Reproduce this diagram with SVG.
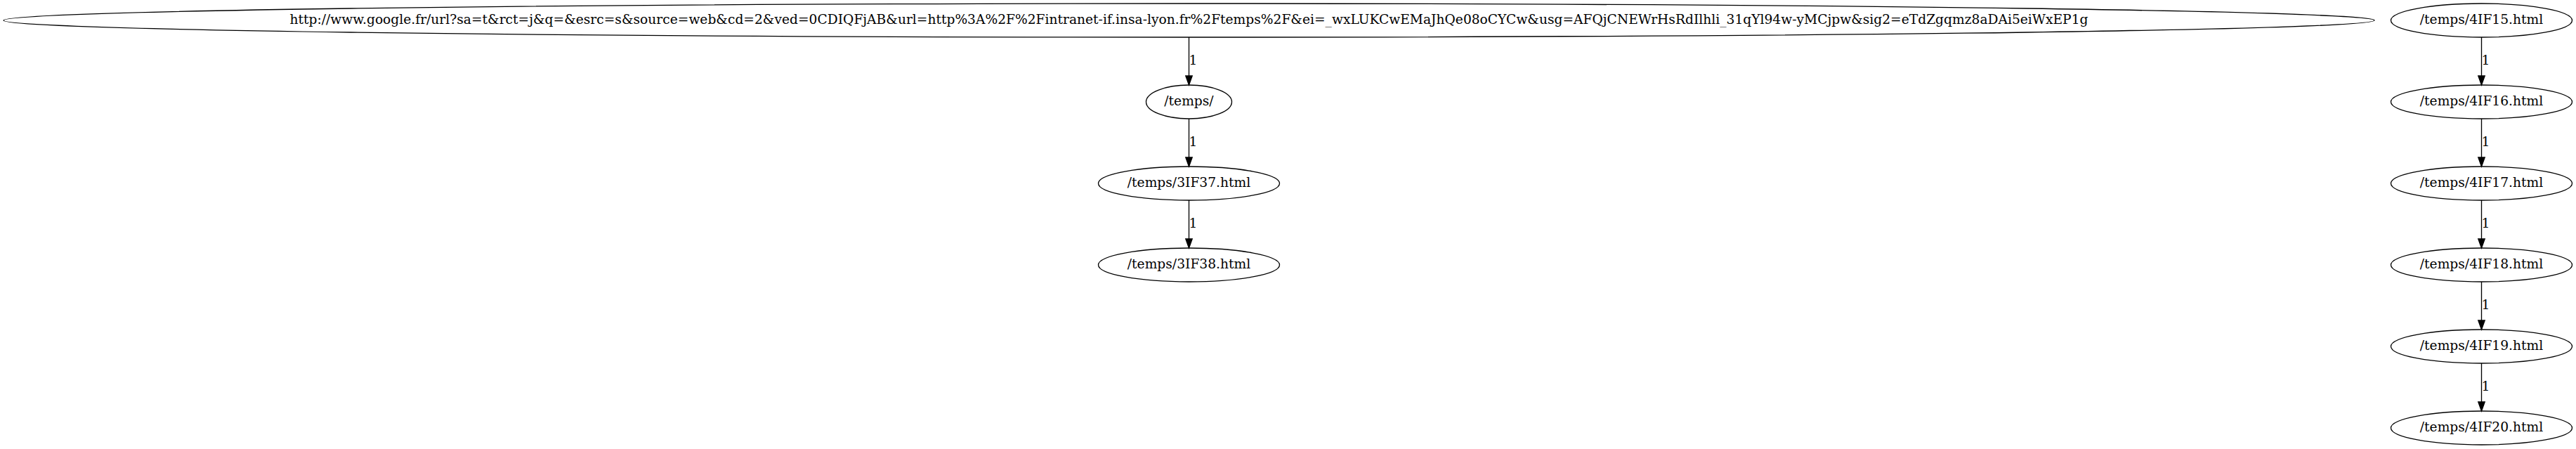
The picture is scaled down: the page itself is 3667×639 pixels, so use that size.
<svg xmlns="http://www.w3.org/2000/svg" width="3667" height="639" viewBox="0 0 3667 639">
<defs>
<style>
.node ellipse{fill:none;stroke:#000;stroke-width:1.33}
.node text{font-family:"DejaVu Serif","Liberation Serif",serif;font-size:18.67px;text-anchor:middle;fill:#000}
.edges line{stroke:#000;stroke-width:1.33}
.edges polygon{fill:#000;stroke:#000;stroke-width:1.33}
.edges text{font-family:"DejaVu Serif","Liberation Serif",serif;font-size:18.67px;text-anchor:middle;fill:#000}
</style>
</defs>
<rect width="3667" height="639" fill="#fff"/>
<g id="edges" class="edges">
<line x1="1692.5" y1="53" x2="1692.5" y2="108"/><polygon points="1687.8,108 1697.2,108 1692.5,121"/><text x="1698.5" y="92">1</text>
<line x1="1692.5" y1="169" x2="1692.5" y2="224"/><polygon points="1687.8,224 1697.2,224 1692.5,237"/><text x="1698.5" y="208">1</text>
<line x1="1692.5" y1="285" x2="1692.5" y2="340"/><polygon points="1687.8,340 1697.2,340 1692.5,353"/><text x="1698.5" y="324">1</text>
<line x1="3532.5" y1="53" x2="3532.5" y2="108"/><polygon points="3527.8,108 3537.2,108 3532.5,121"/><text x="3538.5" y="92">1</text>
<line x1="3532.5" y1="169" x2="3532.5" y2="224"/><polygon points="3527.8,224 3537.2,224 3532.5,237"/><text x="3538.5" y="208">1</text>
<line x1="3532.5" y1="285" x2="3532.5" y2="340"/><polygon points="3527.8,340 3537.2,340 3532.5,353"/><text x="3538.5" y="324">1</text>
<line x1="3532.5" y1="401" x2="3532.5" y2="456"/><polygon points="3527.8,456 3537.2,456 3532.5,469"/><text x="3538.5" y="440">1</text>
<line x1="3532.5" y1="517" x2="3532.5" y2="572"/><polygon points="3527.8,572 3537.2,572 3532.5,585"/><text x="3538.5" y="556">1</text>
</g>
<g id="node_google" class="node"><ellipse cx="1692.5" cy="29" rx="1687.5" ry="24"/><text x="1692.5" y="34">http://www.google.fr/url?sa=t&amp;rct=j&amp;q=&amp;esrc=s&amp;source=web&amp;cd=2&amp;ved=0CDIQFjAB&amp;url=http%3A%2F%2Fintranet-if.insa-lyon.fr%2Ftemps%2F&amp;ei=_wxLUKCwEMaJhQe08oCYCw&amp;usg=AFQjCNEWrHsRdIlhli_31qYl94w-yMCjpw&amp;sig2=eTdZgqmz8aDAi5eiWxEP1g</text></g>
<g id="node_temps" class="node"><ellipse cx="1692.5" cy="145" rx="61" ry="24"/><text x="1692.5" y="150">/temps/</text></g>
<g id="node_3IF37" class="node"><ellipse cx="1692.5" cy="261" rx="129" ry="24"/><text x="1692.5" y="266">/temps/3IF37.html</text></g>
<g id="node_3IF38" class="node"><ellipse cx="1692.5" cy="377" rx="129" ry="24"/><text x="1692.5" y="382">/temps/3IF38.html</text></g>
<g id="node_4IF15" class="node"><ellipse cx="3532.5" cy="29" rx="129" ry="24"/><text x="3532.5" y="34">/temps/4IF15.html</text></g>
<g id="node_4IF16" class="node"><ellipse cx="3532.5" cy="145" rx="129" ry="24"/><text x="3532.5" y="150">/temps/4IF16.html</text></g>
<g id="node_4IF17" class="node"><ellipse cx="3532.5" cy="261" rx="129" ry="24"/><text x="3532.5" y="266">/temps/4IF17.html</text></g>
<g id="node_4IF18" class="node"><ellipse cx="3532.5" cy="377" rx="129" ry="24"/><text x="3532.5" y="382">/temps/4IF18.html</text></g>
<g id="node_4IF19" class="node"><ellipse cx="3532.5" cy="493" rx="129" ry="24"/><text x="3532.5" y="498">/temps/4IF19.html</text></g>
<g id="node_4IF20" class="node"><ellipse cx="3532.5" cy="609" rx="129" ry="24"/><text x="3532.5" y="614">/temps/4IF20.html</text></g>
</svg>
